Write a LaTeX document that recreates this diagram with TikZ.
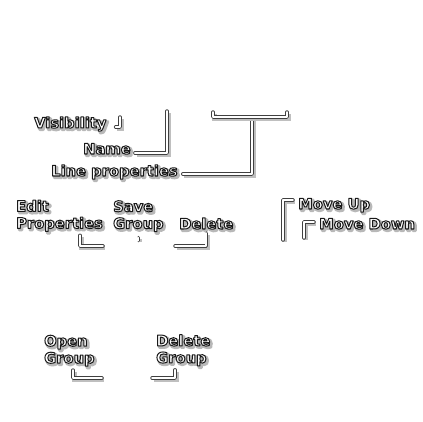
\documentclass[tikz,border=0pt]{standalone}
\usepackage{fontspec}
\setmainfont{DejaVu Sans Bold}

% white lettering with a dark rim and a soft shadow
\newcommand\rim[2]{\special{pdf:literal direct 1 j #1 w #2 G 2 Tr}}
\newcommand\norim{\special{pdf:literal direct 0 Tr}}
\newcommand\halo[1]{%
  \makebox[0pt][l]{\kern1.7pt\raisebox{-1.7pt}{\color{black!45}\rim{2.8}{0.72}#1\norim}}%
  {\color{white}\rim{1}{0.1}#1\norim}}

\begin{document}
\begin{tikzpicture}[%
					x=1pt, y=-1pt,
					every node/.style={%
						inner sep=0pt,
						align=left,
						font=\fontsize{14.7}{17}\selectfont
					},
					callout/.style={%
						draw=black!75, line width=3.4pt,
						line cap=round, line join=round,
						preaction={draw=black!25, line width=4.6pt,
							transform canvas={shift={(1.7pt,-1.7pt)}}},
						postaction={draw=white, line width=1.9pt}
					}
				]

				\fill[white] (0,0) rectangle (423,422);
				\useasboundingbox (0,0) rectangle (423,422);

				% labels
				\node (vis) [anchor=base west] at (34,128) {\halo{Visibility}};
				\node (name) [anchor=base west] at (83,154) {\halo{Name}};
				\node (lineprops) [anchor=base west] at (51,176) {\halo{Line properties}};

				\node (edit) [anchor=north west] at (16,200) {\halo{Edit}\\\halo{Properties}};
				\node (save) [anchor=north west] at (113,200.5) {\halo{Save}\\\halo{Group}};
				\node (delete) [anchor=base west] at (179,229) {\halo{Delete}};

				\node (moveup) [anchor=base west] at (298,209) {\halo{Move Up}};
				\node (movedown) [anchor=base west] at (319,229) {\halo{Move Down}};

				\node (open) [anchor=north west] at (44,335) {\halo{Open}\\\halo{Group}};
				\node (delgroup) [anchor=north west] at (156,334.5) {\halo{Delete}\\\halo{Group}};

				% free ends of the callouts
				\coordinate (vis-tip) at (120,117);
				\coordinate (name-tip) at (167,111);
				\coordinate (lineprops-tip) at (252,117);
				\coordinate (bar-left) at (213,112);
				\coordinate (bar-right) at (287,112);
				\coordinate (edit-end) at (103,246);
				\coordinate (delete-end) at (175,246);
				\coordinate (moveup-end) at (283,240);
				\coordinate (movedown-end) at (304,238);
				\coordinate (open-end) at (102,378);
				\coordinate (delgroup-end) at (152,378);

				% callouts
				\draw[callout] ([shift={(9,-1)}]vis.base east) -| (vis-tip);
				\draw[callout] ([shift={(4,-1)}]name.base east) -| (name-tip);
				\draw[callout] ([shift={(5,-2)}]lineprops.base east) -| (lineprops-tip);
				\draw[callout] (bar-left) -- ++(0,5) -| (bar-right);

				\draw[callout] ([shift={(64,2)}]edit.south west) |- (edit-end);
				\draw[callout] ([yshift=-4pt]save.south) -- ++(0,3);
				\draw[callout] ([yshift=-2pt]delete.south) |- (delete-end);

				\draw[callout] ([shift={(-5,-9)}]moveup.base west) -| (moveup-end);
				\draw[callout] ([shift={(-5,-7)}]movedown.base west) -| (movedown-end);

				\draw[callout] ([shift={(29,2)}]open.south west) |- (open-end);
				\draw[callout] ([shift={(19,2)}]delgroup.south west) |- (delgroup-end);
			\end{tikzpicture}
\end{document}
